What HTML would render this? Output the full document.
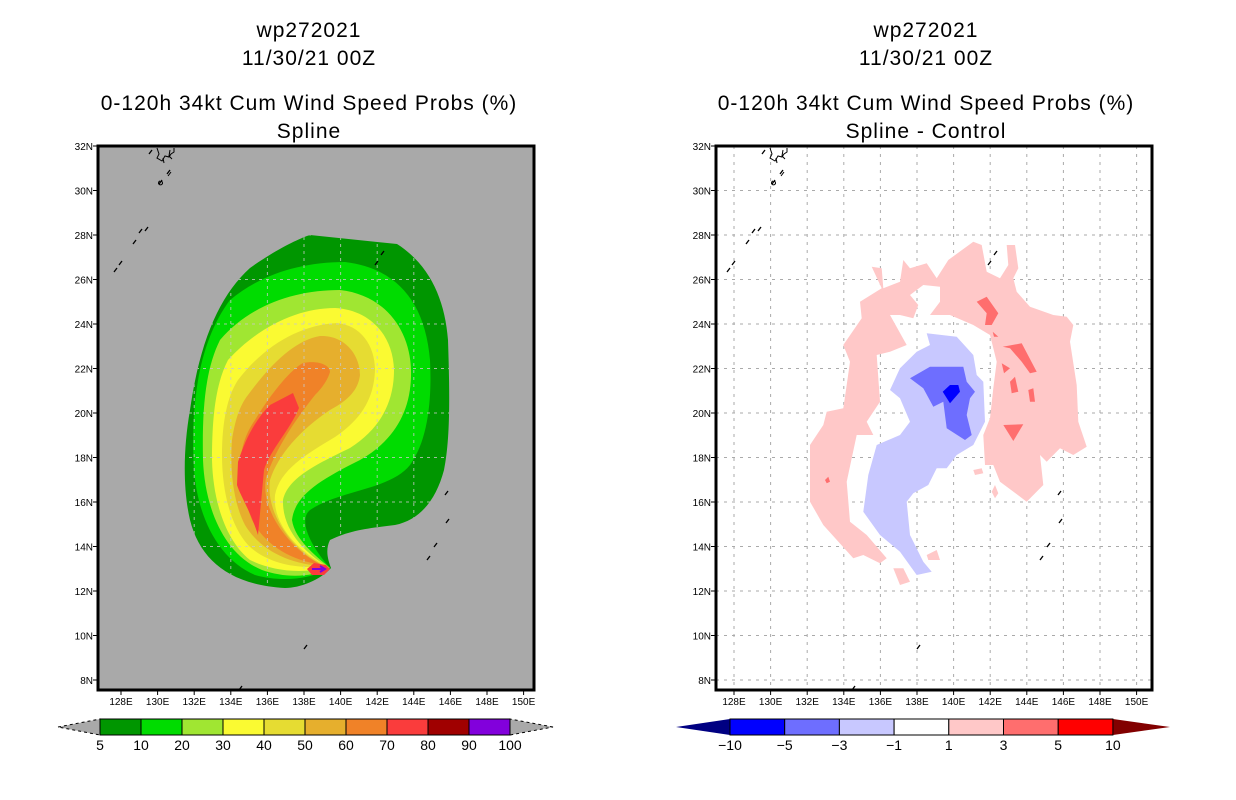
<!DOCTYPE html>
<html><head><meta charset="utf-8"><style>
body{margin:0;background:#fff;width:1236px;height:800px;overflow:hidden}
svg{display:block}
text{font-family:"Liberation Sans",sans-serif}
</style></head><body>
<svg id="s" width="1236" height="800" viewBox="0 0 1236 800">
<defs><clipPath id="cl"><rect x="98" y="146" width="436" height="544"/></clipPath>
<clipPath id="cr"><rect x="716" y="146" width="436" height="544"/></clipPath></defs>
<g id="L" clip-path="url(#cl)"></g>
<g id="R" clip-path="url(#cr)"></g>
<g id="A"></g>
</svg>
<script>
const NS="http://www.w3.org/2000/svg";
const lats=[8,10,12,14,16,18,20,22,24,26,28,30,32];
const lons=[128,130,132,134,136,138,140,142,144,146,148,150];
const leftLevels=["5","10","20","30","40","50","60","70","80","90","100"];
const leftColors=["#009600","#00dc00","#a0e632","#fafa32","#e6dc32","#e6af2d","#f08228","#fa3c3c","#a00000","#8200dc"];
const rightLevels=["-10","-5","-3","-1","1","3","5","10"];
const rightColors=["#0000ff","#6e6eff","#c8c8ff","#ffffff","#ffc8c8","#ff6e6e","#ff0000"];
const titles=[["wp272021","11/30/21 00Z","0-120h 34kt Cum Wind Speed Probs (%)","Spline"],["wp272021","11/30/21 00Z","0-120h 34kt Cum Wind Speed Probs (%)","Spline - Control"]];
const leftPaths=[
"M 250 268 C 275 250, 300 238, 310 235 L 397 244 C 430 265, 445 300, 448 340 C 450 400, 450 440, 444 470 C 436 500, 420 520, 395 525 C 370 528, 350 530, 330 540 C 325 550, 328 560, 331 568 C 320 580, 300 588, 285 588 C 230 585, 200 560, 190 520 C 183 490, 183 450, 190 410 C 200 340, 220 295, 250 268 Z",
"M 230 300 C 260 275, 300 262, 345 262 C 395 268, 425 300, 430 360 C 432 400, 428 440, 410 465 C 390 490, 340 490, 310 510 C 298 520, 310 545, 330 568 C 310 580, 280 582, 255 575 C 220 560, 198 520, 194 470 C 190 400, 200 340, 230 300 Z",
"M 220 340 C 250 305, 295 290, 340 290 C 385 295, 410 330, 411 370 C 412 410, 395 440, 360 460 C 320 480, 295 495, 292 520 C 295 540, 315 555, 330 568 C 310 578, 285 578, 262 570 C 225 555, 205 510, 203 460 C 202 410, 205 370, 220 340 Z",
"M 228 360 C 260 325, 300 308, 335 308 C 370 310, 393 335, 394 370 C 394 405, 378 430, 350 448 C 315 465, 288 478, 283 500 C 282 530, 305 553, 328 567 C 300 575, 270 570, 250 560 C 225 540, 213 500, 212 460 C 212 420, 215 385, 228 360 Z",
"M 238 380 C 265 345, 300 325, 337 323 C 360 325, 375 345, 375 370 C 374 400, 360 420, 335 437 C 305 455, 280 470, 275 495 C 272 525, 300 553, 327 566 C 295 570, 265 562, 248 545 C 230 525, 222 490, 222 455 C 222 420, 228 395, 238 380 Z",
"M 248 395 C 270 365, 295 340, 320 336 C 345 335, 360 355, 360 375 C 358 392, 345 402, 330 410 C 300 430, 278 455, 270 480 C 265 515, 295 553, 325 566 C 290 565, 260 550, 245 525 C 232 500, 230 465, 232 440 C 235 420, 240 405, 248 395 Z",
"M 255 420 C 270 395, 290 370, 303 363 C 318 360, 330 365, 330 372 C 327 382, 320 390, 315 395 C 295 420, 275 450, 266 478 C 260 510, 290 550, 322 565 C 290 560, 265 545, 252 520 C 242 495, 240 470, 242 450 C 244 440, 248 430, 255 420 Z",
"M 270 405 L 293 393 L 299 408 C 290 430, 270 450, 264 470 L 258 535 C 250 510, 240 495, 237 485 L 238 462 C 245 440, 255 420, 270 405 Z M 307 569 L 314 563 L 326 565 L 330 569 L 324 575 L 312 575 Z"];
const pink=[[30,630],[70,570],[80,530],[130,520],[140,450],[150,380],[130,330],[185,250],[180,200],[245,160],[215,95],[245,100],[250,160],[300,140],[310,75],[330,100],[380,85],[410,130],[445,75],[520,20],[545,30],[560,110],[600,130],[625,90],[620,30],[645,30],[655,100],[640,130],[650,170],[690,215],[760,240],[800,245],[820,270],[810,320],[830,450],[835,560],[860,635],[820,660],[780,640],[740,680],[720,660],[730,750],[680,800],[600,740],[580,690],[555,690],[550,600],[570,550],[580,460],[590,380],[570,300],[520,270],[450,240],[390,240],[420,200],[420,155],[370,150],[330,180],[355,210],[340,250],[300,240],[270,240],[320,330],[270,350],[230,360],[240,500],[200,560],[220,600],[170,600],[140,740],[150,860],[200,900],[260,970],[240,985],[190,960],[160,970],[70,870],[30,800]];
const pinkBits=[[[380,960],[410,945],[420,975],[385,975]],[[280,1000],[310,1000],[330,1040],[300,1050]],[[520,705],[545,700],[550,715],[525,720]],[[575,770],[585,750],[595,775],[585,790]]];
const lblue=[[380,295],[470,305],[520,360],[530,420],[550,440],[555,560],[520,630],[470,660],[440,700],[410,700],[385,750],[340,775],[320,800],[330,900],[370,980],[395,1010],[350,1020],[300,950],[240,900],[190,830],[205,720],[230,630],[300,600],[330,560],[300,490],[270,465],[300,400],[350,350],[390,330]];
const blue=[[330,430],[390,395],[490,395],[500,440],[525,470],[510,490],[500,540],[515,600],[495,615],[440,580],[430,500],[400,515],[370,460]];
const dblue=[[428,470],[450,450],[475,450],[480,470],[450,505]];
const reds=[[[530,200],[560,185],[595,235],[575,270],[555,270],[560,235]],[[608,335],[665,325],[710,410],[690,415],[665,380],[630,340]],[[610,570],[670,568],[640,618]],[[630,440],[645,425],[655,470],[635,475]],[[685,465],[700,460],[705,500],[690,500]],[[605,385],[630,400],[612,415]],[[578,290],[595,305],[582,305]],[[75,735],[85,725],[90,740],[80,745]]];
const islands=[[150,152],[168,172],[160,182],[146,229],[140,231],[134,242],[120,263],[115,270],[446,493],[447,521],[435,545],[428,558],[305,647],[240,688],[382,253],[376,263]];
function px(lon,o){return 121+o+(lon-128)*18.3;}
function py(lat){return 146+(32-lat)*22.25;}
function el(t,a,p){const e=document.createElementNS(NS,t);for(const k in a)e.setAttribute(k,a[k]);p.appendChild(e);return e;}
function pts(arr){return arr.map(p=>(800+p[0]/3).toFixed(1)+","+(235+p[1]/3).toFixed(1)).join(" ");}
const L=document.getElementById("L"),R=document.getElementById("R"),A=document.getElementById("A");
el("rect",{x:98,y:146,width:436,height:544,fill:"#a9a9a9"},L);
leftPaths.forEach((d,i)=>{const p=el("path",{d:d,fill:leftColors[i]},L);

});
const tip=el("path",{d:"M 312 569 L 324 569 M 320 566 L 325 569 L 320 572",stroke:"#8200dc","stroke-width":2,fill:"none"},L);


const cg=el("clipPath",{id:"cg"},document.querySelector("defs"));el("path",{d:leftPaths[0]},cg);
const gl=el("g",{"clip-path":"url(#cg)"},L);
lons.forEach(v=>el("line",{x1:px(v,0),x2:px(v,0),y1:146,y2:690,stroke:"#c8c8c8","stroke-dasharray":"3,4","stroke-opacity":"0.8"},gl));
lats.forEach(v=>el("line",{x1:98,x2:534,y1:py(v),y2:py(v),stroke:"#c8c8c8","stroke-dasharray":"3,4","stroke-opacity":"0.8"},gl));
el("rect",{x:716,y:146,width:436,height:544,fill:"#fff"},R);
lons.forEach(v=>el("line",{x1:px(v,613),x2:px(v,613),y1:146,y2:690,stroke:"#aaa","stroke-dasharray":"3,5"},R));
lats.forEach(v=>el("line",{x1:716,x2:1152,y1:py(v),y2:py(v),stroke:"#aaa","stroke-dasharray":"3,5"},R));
function poly(a,c,n){const p=el("polygon",{points:pts(a),fill:c},R);}
poly(pink,"#ffc8c8","diff-contour-1-3");
pinkBits.forEach(b=>poly(b,"#ffc8c8","diff-contour-1-3-patch"));
poly(lblue,"#c8c8ff","diff-contour-neg1-neg3");
poly(blue,"#6e6eff","diff-contour-neg3-neg5");
poly(dblue,"#0000ff","diff-contour-neg5-neg10");
reds.forEach(b=>poly(b,"#ff6e6e","diff-contour-3-5"));
[[L,0],[R,613]].forEach(([g,o])=>islands.forEach(s=>el("path",{d:`M${s[0]+o-1} ${s[1]+2} l3 -4`,fill:"none",stroke:"#000","stroke-width":1.3},g)));
[[L,0],[R,613]].forEach(([g,o])=>el("path",{d:`M${157+o} 148 l2 6 l-2 4 l5 3 l3 -5 l4 1 l2 -3 l3 -2 l0 -4 M${170+o} 150 l-1 6 l3 3 M${163+o} 158 l1 5 M${168+o} 176 l3 -4 M${160+o} 181 a2 2 0 1 0 1 0`,fill:"none",stroke:"#000"},g));
[0,613].forEach((o,k)=>{
  const x0=k?716:98;
  const f=el("rect",{x:x0,y:146,width:436,height:544,fill:"none",stroke:"#000","stroke-width":3},A);
  
  
  lats.forEach(v=>{el("line",{x1:x0-5,x2:x0,y1:py(v),y2:py(v),stroke:"#000"},A);
    const t=el("text",{x:x0-5,y:py(v)+4,"text-anchor":"end","font-size":10},A);t.textContent=v+"N";
    });
  lons.forEach(v=>{el("line",{x1:px(v,o),x2:px(v,o),y1:690,y2:695,stroke:"#000"},A);
    const t=el("text",{x:px(v,o),y:705,"text-anchor":"middle","font-size":10},A);t.textContent=v+"E";
    });
  const cx=k?926:309;
  [37,65,110,138].forEach((y,i)=>{const t=el("text",{x:cx,y:y,"text-anchor":"middle","font-size":21,"letter-spacing":"1"},A);
    t.textContent=titles[k][i];
    });
});
const lb=el("g",{},A);
el("polygon",{points:"58,727 100,719 100,735",fill:"#a9a9a9",stroke:"#000","stroke-dasharray":"3,3"},lb);
el("polygon",{points:"553,727 510,719 510,735",fill:"#a9a9a9",stroke:"#000","stroke-dasharray":"3,3"},lb);
leftColors.forEach((c,i)=>el("rect",{x:100+i*41,y:719,width:41,height:16,fill:c,stroke:"#000"},lb));
leftLevels.forEach((v,i)=>{const t=el("text",{x:100+i*41,y:750,"text-anchor":"middle","font-size":14},lb);t.textContent=v;});
const rb=el("g",{},A);
el("polygon",{points:"676,727 730,719 730,735",fill:"#000082"},rb);
el("polygon",{points:"1170,727 1113,719 1113,735",fill:"#820000"},rb);
rightColors.forEach((c,i)=>el("rect",{x:730+i*54.7,y:719,width:54.7,height:16,fill:c,stroke:"#000"},rb));
rightLevels.forEach((v,i)=>{const t=el("text",{x:730+i*54.7,y:750,"text-anchor":"middle","font-size":14},rb);t.textContent=v.replace("-","\u2212");});
</script>
</body></html>
